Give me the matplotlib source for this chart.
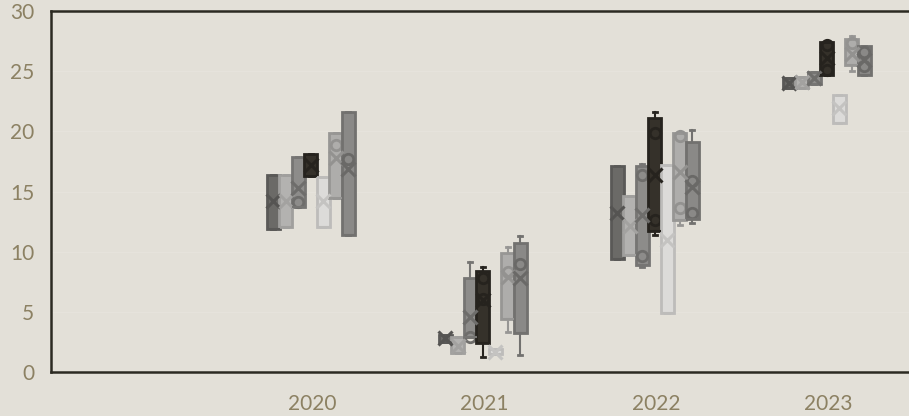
import matplotlib
matplotlib.use("Agg")
import matplotlib.pyplot as plt
import numpy as np

# categories
years = ["2020", "2021", "2022", "2023"]

# box stats per series, one value per year: q1, q3, mean, whisker low/high, inner points
s1_q1 = [11.9, 2.5, 9.4, 23.6]
s1_q3 = [16.4, 3.1, 17.1, 24.4]
s1_mean = [14.2, 2.8, 13.2, 24.0]
s1_lo = [11.9, 2.5, 9.4, 23.6]
s1_hi = [16.4, 3.1, 17.1, 24.4]
s1_pts = [[], [], [], []]

s2_q1 = [12.05, 1.6, 9.7, 23.6]
s2_q3 = [16.4, 2.9, 14.6, 24.5]
s2_mean = [14.2, 2.2, 12.1, 24.1]
s2_lo = [12.05, 1.6, 9.7, 23.6]
s2_hi = [16.4, 2.9, 14.6, 24.5]
s2_pts = [[], [], [], []]

s3_q1 = [13.7, 2.9, 8.9, 23.9]
s3_q3 = [17.9, 7.8, 17.1, 24.9]
s3_mean = [15.3, 4.6, 13.05, 24.4]
s3_lo = [13.7, 2.9, 8.7, 23.9]
s3_hi = [17.9, 9.1, 17.3, 24.9]
s3_pts = [[14.1], [2.9], [16.4, 9.6], []]

s4_q1 = [16.3, 2.4, 11.7, 24.7]
s4_q3 = [18.1, 8.4, 21.1, 27.45]
s4_mean = [17.2, 6.0, 16.4, 26.1]
s4_lo = [16.3, 1.27, 11.4, 24.7]
s4_hi = [18.1, 8.75, 21.6, 27.45]
s4_pts = [[], [7.8, 6.1], [19.9, 12.6], [27.2, 25.1]]

s5_q1 = [12.05, 1.5, 4.9, 20.7]
s5_q3 = [16.2, 1.9, 17.2, 23.0]
s5_mean = [14.2, 1.7, 11.0, 21.9]
s5_lo = [12.05, 1.5, 4.9, 20.7]
s5_hi = [16.2, 1.9, 17.2, 23.0]
s5_pts = [[], [], [], []]

s6_q1 = [14.5, 4.4, 12.6, 25.5]
s6_q3 = [19.9, 9.9, 19.9, 27.7]
s6_mean = [17.8, 7.9, 16.6, 26.4]
s6_lo = [14.5, 3.3, 12.2, 25.05]
s6_hi = [19.9, 10.4, 19.9, 27.9]
s6_pts = [[18.9], [8.3], [19.6, 13.6], [27.3]]

s7_q1 = [11.4, 3.2, 12.7, 24.7]
s7_q3 = [21.6, 10.75, 19.1, 27.1]
s7_mean = [16.9, 7.8, 15.35, 25.9]
s7_lo = [11.4, 1.4, 12.4, 24.7]
s7_hi = [21.6, 11.3, 20.1, 27.1]
s7_pts = [[17.7], [8.95], [15.9, 13.2], [26.6, 25.4]]

series = [
    (s1_q1, s1_q3, s1_mean, s1_lo, s1_hi, s1_pts),
    (s2_q1, s2_q3, s2_mean, s2_lo, s2_hi, s2_pts),
    (s3_q1, s3_q3, s3_mean, s3_lo, s3_hi, s3_pts),
    (s4_q1, s4_q3, s4_mean, s4_lo, s4_hi, s4_pts),
    (s5_q1, s5_q3, s5_mean, s5_lo, s5_hi, s5_pts),
    (s6_q1, s6_q3, s6_mean, s6_lo, s6_hi, s6_pts),
    (s7_q1, s7_q3, s7_mean, s7_lo, s7_hi, s7_pts),
]

faces = ["#6b6a67", "#b3b2b0", "#8d8c8a", "#35312a", "#dcdbd9", "#aeadab", "#8a8987"]
edges = ["#5a5957", "#a09f9d", "#767573", "#26231e", "#bdbcba", "#979694", "#72716f"]
marks = ["#555452", "#a3a2a0", "#6e6d6b", "#26231e", "#c4c3c1", "#939290", "#6a6967"]

bg = "#e3e0d8"
txt = "#8c8163"

fig = plt.figure(figsize=(9.09, 4.16), dpi=100)
fig.patch.set_facecolor(bg)
# plot area runs a bit past the right edge of the picture
ax = fig.add_axes([51 / 909, 1 - 372 / 416, 861 / 909, 361 / 416])
ax.set_facecolor(bg)

step = 0.0727
width = 0.076
x0 = np.arange(1, len(years) + 1)

for i, (q1, q3, mean, lo, hi, pts) in enumerate(series):
    stats = []
    for j in range(len(years)):
        stats.append(dict(med=q1[j], q1=q1[j], q3=q3[j], whislo=lo[j], whishi=hi[j],
                          mean=mean[j], fliers=pts[j]))
    pos = x0 + (i - 3) * step - 0.008
    ax.bxp(stats, positions=pos, widths=width, patch_artist=True, showmeans=True,
           capwidths=0.022,
           boxprops=dict(facecolor=faces[i], edgecolor=edges[i], linewidth=2),
           medianprops=dict(color=edges[i], linewidth=1.5),
           whiskerprops=dict(color=edges[i], linewidth=1.5),
           capprops=dict(color=edges[i], linewidth=2),
           meanprops=dict(marker="x", markersize=10, markeredgewidth=2.2,
                          markeredgecolor=marks[i], markerfacecolor="none"),
           flierprops=dict(marker="o", markersize=7.5, markeredgewidth=2,
                           markeredgecolor=marks[i], markerfacecolor="none"),
           zorder=3)

ax.set_xlim(1 - 261 / 172, 1 + 600 / 172)
ax.set_ylim(0, 30)
ax.set_yticks(range(0, 31, 5))
ax.set_xticks(x0)
ax.set_xticklabels(years)
ax.yaxis.grid(True, color="#e6e3dc", linewidth=1, zorder=0)
ax.set_axisbelow(True)

for side in ["left", "bottom", "top"]:
    ax.spines[side].set_color("#2c2a22")
    ax.spines[side].set_linewidth(1.8)
ax.spines["right"].set_visible(False)

ax.tick_params(axis="both", length=0, labelsize=15, labelcolor=txt)
ax.tick_params(axis="y", pad=12)
ax.tick_params(axis="x", pad=16)
for lab in ax.get_xticklabels() + ax.get_yticklabels():
    lab.set_family(["Lato", "DejaVu Sans"])

plt.savefig("out.png", dpi=100, facecolor=bg)
